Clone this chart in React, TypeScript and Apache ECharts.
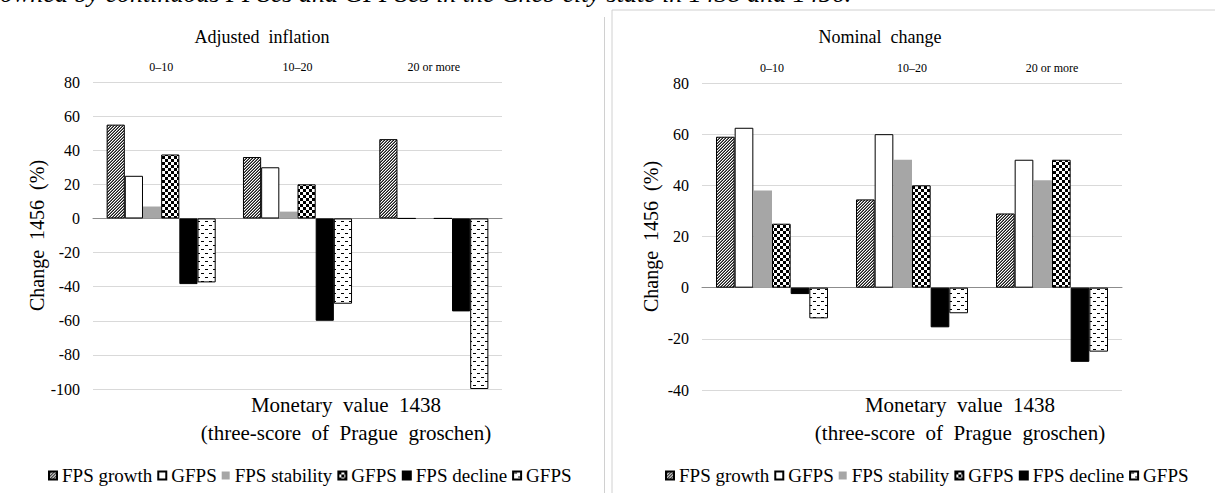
import React, { useEffect, useRef } from "react";
import * as echarts from "echarts";

const categories = ["0–10", "10–20", "20 or more"];
const seriesNames = ["FPS growth", "GFPS#1", "FPS stability", "GFPS#2", "FPS decline", "GFPS#3"];

// Adjusted inflation (left panel)
const adjGrowth = [55, 36, 46.5];
const adjGfps1 = [25, 30, 0];
const adjStability = [7, 4, 0];
const adjGfps2 = [37.5, 20, 0];
const adjDecline = [-38.5, -60, -54.5];
const adjGfps3 = [-37.5, -50, -100];

// Nominal change (right panel)
const nomGrowth = [59, 34.5, 29];
const nomGfps1 = [62.5, 60, 50];
const nomStability = [38, 50, 42];
const nomGfps2 = [25, 40, 50];
const nomDecline = [-2.5, -15.5, -29];
const nomGfps3 = [-12, -10, -25];

const leftTicks = { min: -100, max: 80, interval: 20 };
const rightTicks = { min: -40, max: 80, interval: 20 };

const FONT = "Liberation Serif";

function makeCanvas(w: number, h: number, draw: (c: CanvasRenderingContext2D) => void) {
  const cv = document.createElement("canvas");
  cv.width = w;
  cv.height = h;
  const ctx = cv.getContext("2d")!;
  ctx.fillStyle = "#fff";
  ctx.fillRect(0, 0, w, h);
  draw(ctx);
  return cv;
}

function patterns() {
  const hatch = makeCanvas(3, 3, (c) => {
    c.fillStyle = "#1a1a1a";
    c.fillRect(2, 0, 1, 1);
    c.fillRect(1, 1, 1, 1);
    c.fillRect(0, 2, 1, 1);
    c.fillStyle = "#777";
    c.fillRect(1, 0, 1, 1);
    c.fillRect(0, 1, 1, 1);
    c.fillRect(2, 2, 1, 1);
  });
  const check = makeCanvas(6, 6, (c) => {
    c.fillStyle = "#000";
    c.fillRect(0, 0, 3, 3);
    c.fillRect(3, 3, 3, 3);
  });
  const dots = makeCanvas(8, 8, (c) => {
    c.fillStyle = "#000";
    c.fillRect(1, 1, 3, 1);
    c.fillRect(5, 5, 3, 1);
  });
  return {
    hatch: { image: hatch, repeat: "repeat" },
    check: { image: check, repeat: "repeat" },
    dots: { image: dots, repeat: "repeat" },
  };
}

export default function App() {
  const ref = useRef<HTMLDivElement>(null);
  useEffect(() => {
    document.body.style.margin = "0";
    const chart = echarts.init(ref.current!, null, { renderer: "svg" });
    const p = patterns();
    const styles: any[] = [
      { color: p.hatch, borderColor: "#000", borderWidth: 1 },
      { color: "#fff", borderColor: "#000", borderWidth: 1 },
      { color: "#a6a6a6", borderWidth: 0 },
      { color: p.check, borderColor: "#000", borderWidth: 1 },
      { color: "#000", borderColor: "#000", borderWidth: 1 },
      { color: p.dots, borderColor: "#000", borderWidth: 1 },
    ];
    const leftData = [adjGrowth, adjGfps1, adjStability, adjGfps2, adjDecline, adjGfps3];
    const rightData = [nomGrowth, nomGfps1, nomStability, nomGfps2, nomDecline, nomGfps3];

    const mkSeries = (prefix: string, data: number[][], xi: number, yi: number) =>
      data.map((d, i) => ({
        type: "bar",
        name: prefix + seriesNames[i],
        xAxisIndex: xi,
        yAxisIndex: yi,
        data: d,
        barGap: "0%",
        barCategoryGap: "20%",
        itemStyle: styles[i],
      }));

    const xBottom = (g: number) => ({
      gridIndex: g,
      type: "category",
      data: categories,
      position: "bottom",
      axisLine: { onZero: true, lineStyle: { color: "#8c8c8c", width: 1 } },
      axisTick: { show: false },
      axisLabel: { show: false },
    });
    const xTop = (g: number) => ({
      gridIndex: g,
      type: "category",
      data: categories,
      position: "top",
      axisLine: { show: false, onZero: false },
      axisTick: { show: false },
      axisLabel: { fontSize: 12, margin: 9, color: "#000", fontFamily: FONT },
    });
    const yAx = (g: number, t: any, gap: number) => ({
      gridIndex: g,
      type: "value",
      min: t.min,
      max: t.max,
      interval: t.interval,
      axisLine: { show: false },
      axisTick: { show: false },
      splitLine: { lineStyle: { color: "#d9d9d9", width: 1 } },
      axisLabel: { fontSize: 16, margin: 13, color: "#000", fontFamily: FONT },
      name: "Change  1456  (%)",
      nameLocation: "middle",
      nameGap: gap,
      nameRotate: 90,
      nameTextStyle: { fontSize: 20, color: "#000", fontFamily: FONT },
    });

    const legendBase = {
      icon: "rect",
      itemWidth: 8,
      itemHeight: 8,
      itemGap: 5,
      top: 461,
      textStyle: { fontSize: 19, color: "#000", fontFamily: FONT },
      formatter: (n: string) => n.slice(2).replace(/#\d$/, ""),
      selectedMode: false,
    };

    const txt = (x: number, y: number, s: string, size: number, extra: any = {}) => ({
      type: "text",
      x,
      y,
      style: {
        text: s,
        fontSize: size,
        fontFamily: FONT,
        fill: "#000",
        align: "center",
        verticalAlign: "middle",
        ...extra,
      },
    });

    chart.setOption({
      animation: false,
      backgroundColor: "#fff",
      textStyle: { fontFamily: FONT },
      grid: [
        { left: 93, top: 82, width: 409, height: 307 },
        { left: 702, top: 83, width: 420, height: 307 },
      ],
      xAxis: [xBottom(0), xTop(0), xBottom(1), xTop(1)],
      yAxis: [yAx(0, leftTicks, 45), yAx(1, rightTicks, 41)],
      legend: [
        { ...legendBase, left: 43, data: seriesNames.map((n) => "L:" + n) },
        { ...legendBase, left: 660, data: seriesNames.map((n) => "R:" + n) },
      ],
      series: [...mkSeries("L:", leftData, 0, 0), ...mkSeries("R:", rightData, 2, 1)],
      graphic: [
        {
          type: "rect",
          shape: { x: 612, y: 10, width: 620, height: 500 },
          style: { fill: "none", stroke: "#d0d0d0", lineWidth: 1 },
          silent: true,
        },
        {
          type: "line",
          shape: { x1: 604.5, y1: 17, x2: 604.5, y2: 493 },
          style: { stroke: "#d0d0d0", lineWidth: 1 },
          silent: true,
        },
        txt(0, -7, "owned by continuous FPSes and GFPSes in the Cheb city state in 1438 and 1456.", 26, {
          align: "left",
          fontStyle: "italic",
        }),
        txt(262, 37, "Adjusted  inflation", 18),
        txt(880, 37, "Nominal  change", 18),
        txt(346, 405, "Monetary  value  1438", 21),
        txt(346, 433, "(three-score  of  Prague  groschen)", 21),
        txt(960, 405, "Monetary  value  1438", 21),
        txt(960, 433, "(three-score  of  Prague  groschen)", 21),
      ],
    });
    return () => chart.dispose();
  }, []);
  return <div ref={ref} style={{ position: "absolute", left: 0, top: 0, width: 1215, height: 493 }} />;
}
